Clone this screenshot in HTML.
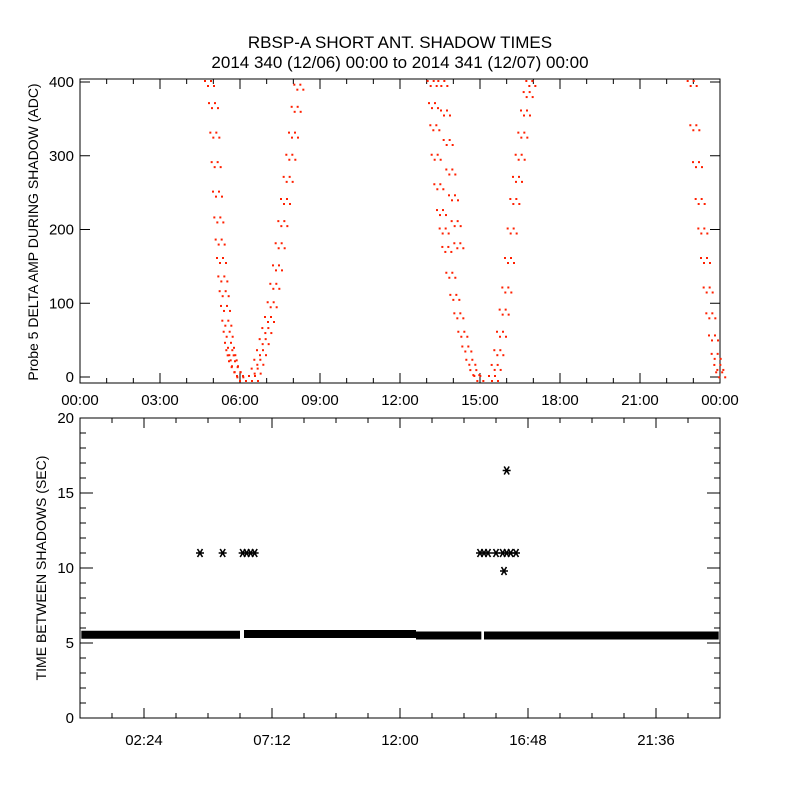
<!DOCTYPE html>
<html><head><meta charset="utf-8">
<style>
body{margin:0;background:#fff;}
svg{display:block;font-family:"Liberation Sans",sans-serif;}
text{fill:#000;font-size:15px;}
</style></head>
<body>
<svg id="chart" width="800" height="800" viewBox="0 0 800 800" xmlns="http://www.w3.org/2000/svg">
<rect width="800" height="800" fill="#fff"/>
<text x="400" y="48" text-anchor="middle" style="font-size:17px">RBSP-A SHORT ANT. SHADOW TIMES</text>
<text x="400" y="68" text-anchor="middle" style="font-size:17px">2014 340 (12/06) 00:00 to 2014 341 (12/07) 00:00</text>
<g id="topPanel"></g>
<g id="botPanel"></g>
<text transform="translate(38,232) rotate(-90)" text-anchor="middle" style="font-size:14px">Probe 5 DELTA AMP DURING SHADOW (ADC)</text>
<text transform="translate(46,568) rotate(-90)" text-anchor="middle" style="font-size:14px">TIME BETWEEN SHADOWS (SEC)</text>
</svg>
<script>
// ---- top panel data (hours, ADC) ----
const topTimes = [
 4.80,4.95,5.00,5.05,5.10,5.15,5.20,5.25,5.30,5.35,5.40,5.45,5.50,5.55,5.60,5.65,5.70,5.80,5.90,6.00,
 6.45,6.55,6.65,6.75,6.85,6.95,7.05,7.15,7.25,7.35,7.45,7.55,7.65,7.75,7.85,7.95,8.05,8.15,
 13.15,13.20,13.25,13.30,13.40,13.50,13.60,13.70,13.85,14.00,14.15,14.30,14.45,14.60,14.75,14.90,
 13.55,13.65,13.75,13.85,13.95,14.05,14.15,
 15.45,15.55,15.65,15.75,15.85,15.95,16.05,16.15,16.25,16.35,16.45,16.55,16.65,16.75,16.85,
 22.90,23.00,23.10,23.20,23.30,23.40,23.50,23.60,23.70,23.80,23.90,23.97
];
const topValues = [
 400,370,330,290,250,215,185,160,135,115,95,75,60,45,35,28,20,12,5,0,
 0,10,22,35,50,65,80,100,125,150,180,210,240,270,300,330,365,395,
 400,370,340,300,260,225,200,175,140,110,85,60,40,22,8,0,
 400,360,320,280,245,210,180,
 0,15,35,60,90,120,160,200,240,270,300,330,360,385,400,
 400,340,290,240,200,160,120,85,55,30,15,5
];
// ---- bottom panel data ----
const bandSegments = [[0.05,6.0,5.55],[6.15,12.6,5.6],[12.6,15.05,5.5],[15.15,23.95,5.5]];
const spikeTimes = [4.5,5.35,6.1,6.25,6.4,6.55,15.0,15.15,15.3,15.6,15.85,16.0,16.15,16.35,16.0,15.9];
const spikeValues = [11,11,11,11,11,11,11,11,11,11,11,11,11,11,16.5,9.8];
const topYTicks = [0,100,200,300,400];
const topXLabels = ["00:00","03:00","06:00","09:00","12:00","15:00","18:00","21:00","00:00"];
const botYTicks = [0,5,10,15,20];
const botXLabels = ["02:24","07:12","12:00","16:48","21:36"];

const NS="http://www.w3.org/2000/svg";
function mk(p,tag,attrs){const e=document.createElementNS(NS,tag);for(const k in attrs)e.setAttribute(k,attrs[k]);p.appendChild(e);return e;}
const X0=80,X1=720;
const xS=h=>X0+(h/24)*(X1-X0);
const yTop=v=>377-v*0.7375;
const yBot=v=>718-v*15;
const topG=document.getElementById('topPanel'), botG=document.getElementById('botPanel');

let f=mk(topG,'rect',{x:80,y:79,width:640,height:304,fill:'none',stroke:'#000','stroke-width':1});


topYTicks.forEach(v=>{
 mk(topG,'line',{x1:80,x2:90,y1:yTop(v),y2:yTop(v),stroke:'#000'});
 mk(topG,'line',{x1:710,x2:720,y1:yTop(v),y2:yTop(v),stroke:'#000'});
 const t=mk(topG,'text',{x:74,y:yTop(v)+5,'text-anchor':'end'});t.textContent=v;
 
 
});
topXLabels.forEach((s,i)=>{
 const x=xS(i*3);
 mk(topG,'line',{x1:x,x2:x,y1:383,y2:373,stroke:'#000'});
 mk(topG,'line',{x1:x,x2:x,y1:79,y2:89,stroke:'#000'});
 for(let k=1;k<3&&i<8;k++){const xm=xS(i*3+k);mk(topG,'line',{x1:xm,x2:xm,y1:383,y2:378,stroke:'#000'});mk(topG,'line',{x1:xm,x2:xm,y1:79,y2:84,stroke:'#000'});}
 const t=mk(topG,'text',{x:x,y:405,'text-anchor':'middle'});t.textContent=s;
 
 
});
topTimes.forEach((h,i)=>{
 const x=xS(h),y=yTop(topValues[i]);
 [-4,-1,2,5].forEach((d,j)=>{
  const r=mk(topG,'rect',{x:x+d,y:y+(j%2?3:-2),width:2,height:2,fill:'#ff2000'});
  
  
 });
});

f=mk(botG,'rect',{x:80,y:418,width:640,height:300,fill:'none',stroke:'#000'});


for(let v=0;v<=20;v++){
 const L=v%5===0?13:6;
 mk(botG,'line',{x1:80,x2:80+L,y1:yBot(v),y2:yBot(v),stroke:'#000'});
 mk(botG,'line',{x1:720-L,x2:720,y1:yBot(v),y2:yBot(v),stroke:'#000'});
}
botYTicks.forEach(v=>{
 const t=mk(botG,'text',{x:74,y:yBot(v)+5,'text-anchor':'end'});t.textContent=v;
 
 
});
for(let k=1;k<20;k++){
 const x=xS(k*1.2),L=(k%4===2)?10:5;
 mk(botG,'line',{x1:x,x2:x,y1:718,y2:718-L,stroke:'#000'});
 mk(botG,'line',{x1:x,x2:x,y1:418,y2:418+L,stroke:'#000'});
}
botXLabels.forEach((s,i)=>{
 const t=mk(botG,'text',{x:xS(2.4+i*4.8),y:745,'text-anchor':'middle'});t.textContent=s;
 
 
});
bandSegments.forEach(s=>{
 const r=mk(botG,'rect',{x:xS(s[0]),y:yBot(s[2])-4,width:xS(s[1])-xS(s[0]),height:8,fill:'#000'});
 
 
});
spikeTimes.forEach((h,i)=>{
 const x=xS(h),y=yBot(spikeValues[i]);
 const p=mk(botG,'path',{d:`M${x-4},${y}H${x+4}M${x-2.5},${y-4}L${x+2.5},${y+4}M${x+2.5},${y-4}L${x-2.5},${y+4}`,stroke:'#000','stroke-width':1.6,fill:'none'});
 
 
});
</script>
</body></html>
